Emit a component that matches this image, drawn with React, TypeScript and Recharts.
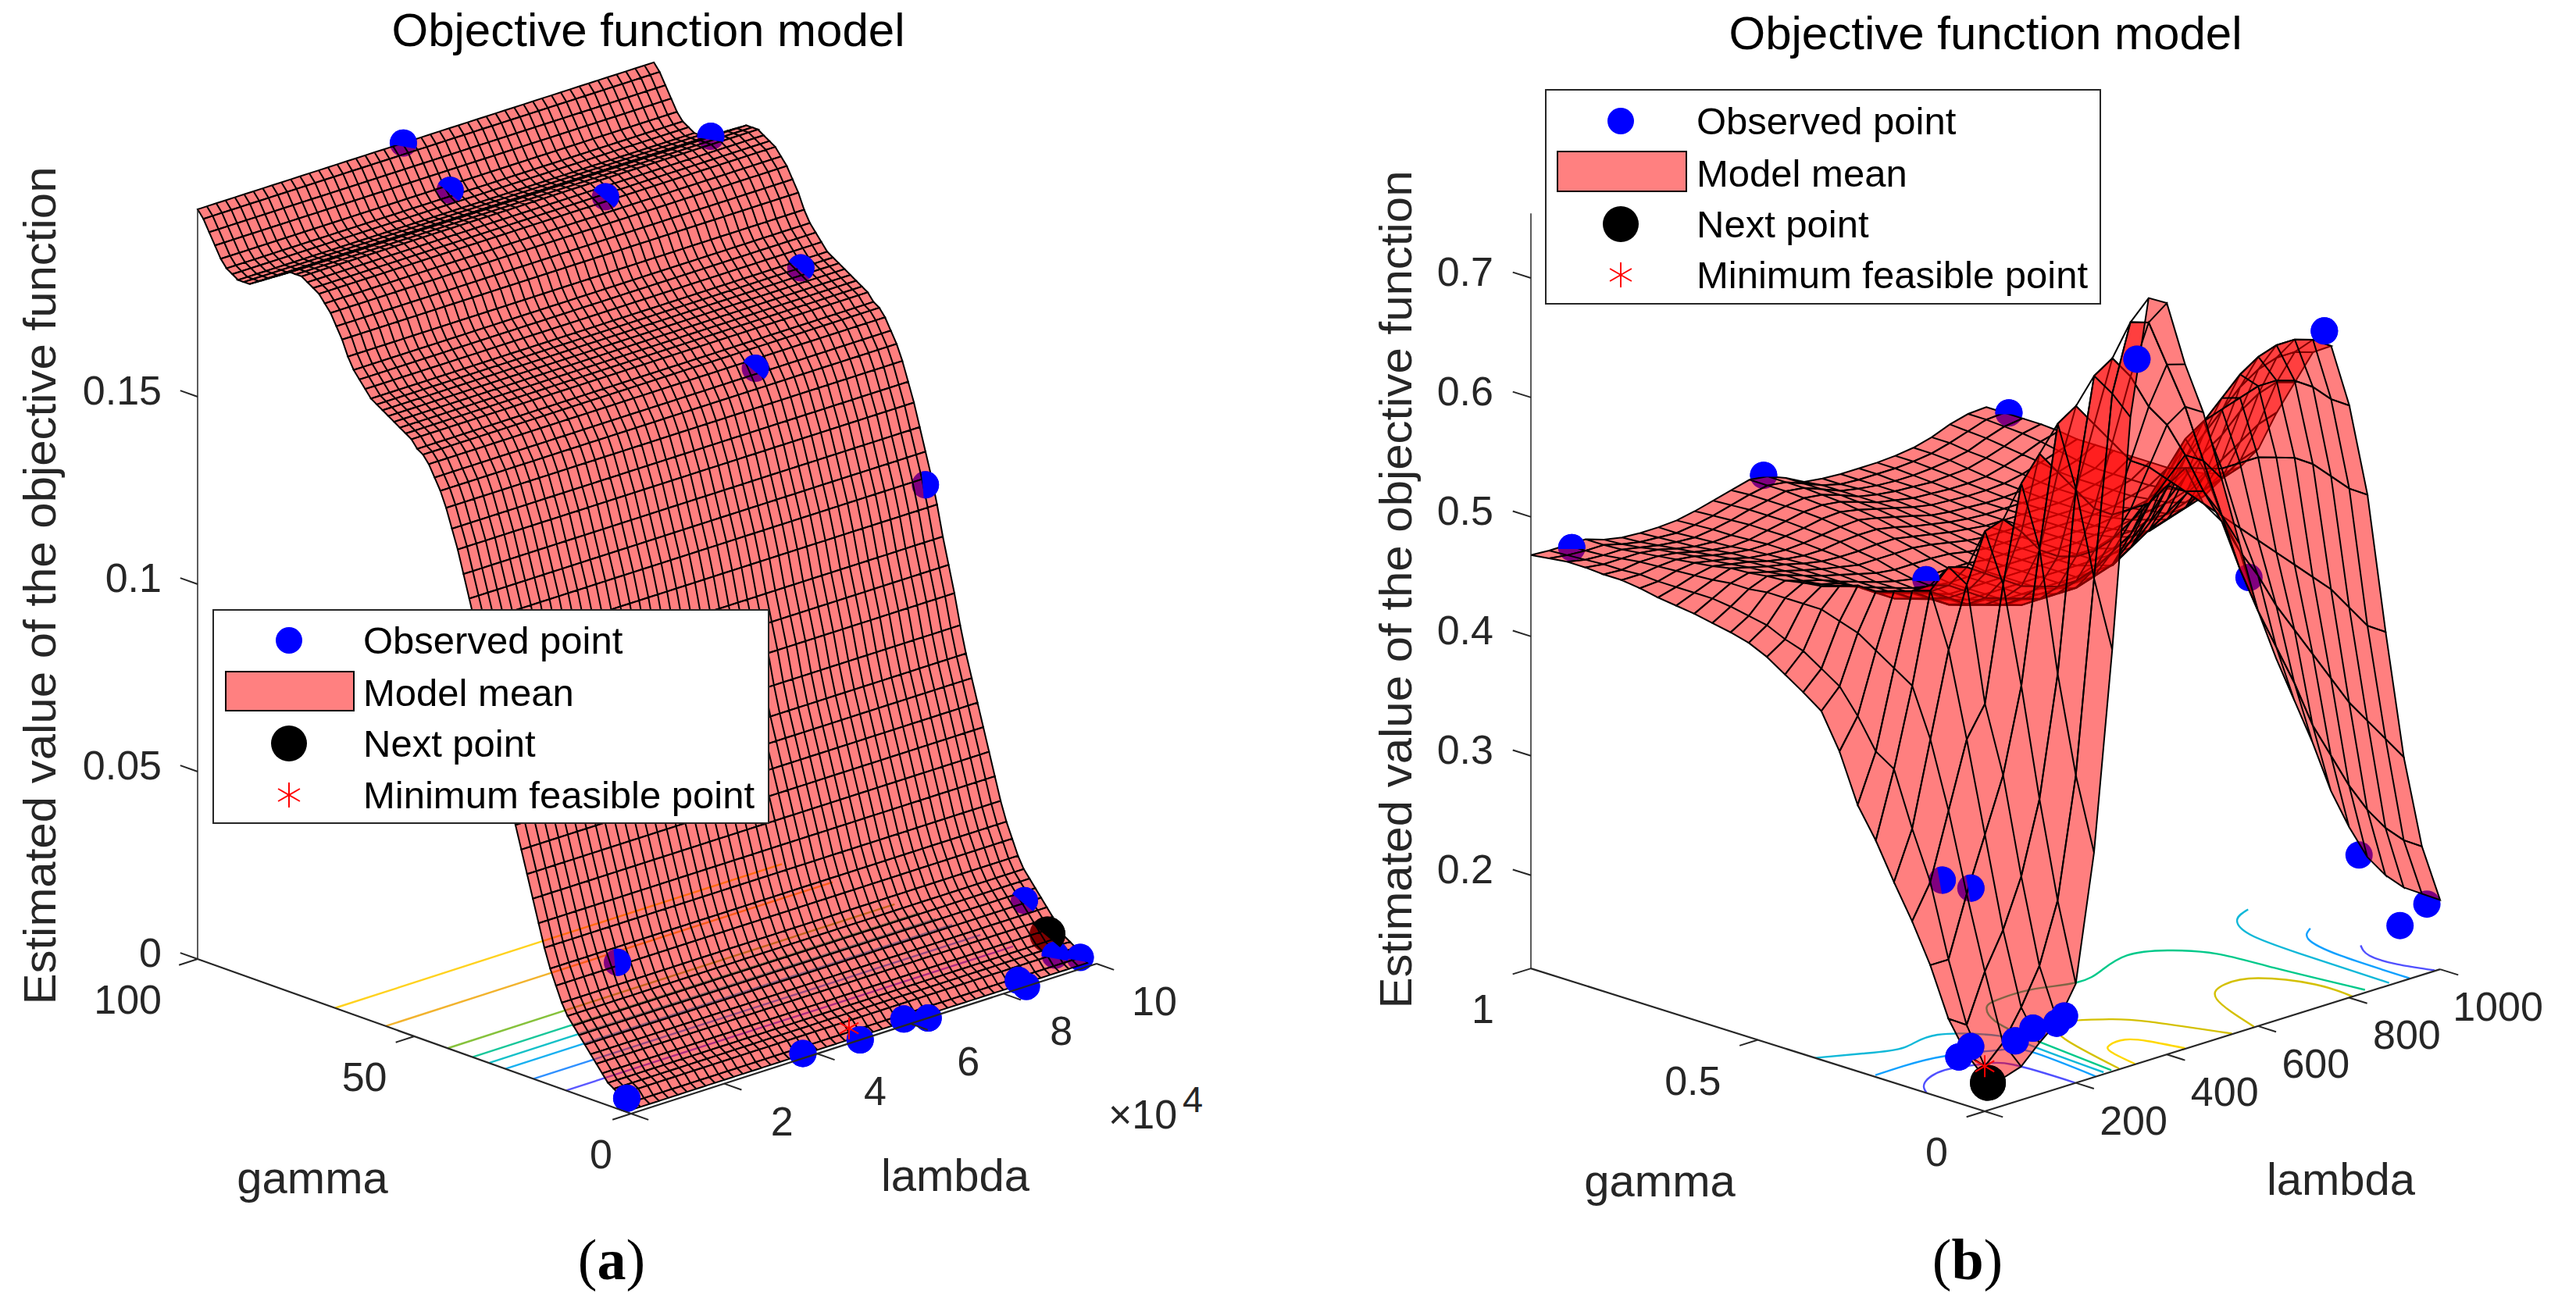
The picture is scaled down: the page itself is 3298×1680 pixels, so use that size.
import { Legend, Scatter, ScatterChart, XAxis, YAxis } from "recharts";

type P3 = [number, number, number]; // lambda (share of axis), gamma (share of axis), z

// ---- panel (a) ----
const lambdaGridA = [0, .02, .04, .06, .08, .1, .12, .14, .16, .18, .2, .22, .24, .26, .28, .3, .32, .34, .36, .38, .4, .42, .44, .46, .48, .5, .52, .54, .56, .58, .6, .62, .64, .66, .68, .7, .72, .74, .76, .78, .8, .82, .84, .86, .88, .9, .92, .94, .96, .98];
// model mean along gamma, front to back
const zProfileA = [.001, .002, .004, .005, .006, .008, .01, .012, .014, .016, .018, .02, .023, .027, .031, .036, .042, .048, .054, .06, .066, .072, .079, .087, .094, .101, .109, .116, .122, .128, .134, .139, .144, .148, .151, .154, .156, .157, .159, .16, .161, .162, .163, .164, .165, .166, .168, .17, .172, .175, .179, .182, .185, .187, .189, .19, .191, .192, .192, .192, .191, .19, .189, .188, .187, .186, .185, .185, .185, .186, .187, .189, .192, .195, .198, .2];
const contourGammaA = [.683, .566, .423, .366, .328, .29, .225, .15];
const contourColorsA = ["#ffd21f", "#f2b32e", "#86c23c", "#18c79a", "#14c0c8", "#18b0f0", "#2f90ff", "#5a58ff"];
const obsCapRightA: P3[] = [[.44, .89, .192], [.69, .8, .184], [.97, .65, .16], [.779, .55, .145], [.938, .1, .0152]];
const obsCapTopA: P3[] = [[.442, 1, .2], [1, .89, .184], [.939, .03, .0035], [.974, .01, .0023]];
const obsCapSideA: P3[] = [[.958, .35, .115], [.25, .3, .018]];
const obsFrontA: P3[] = [[.841, .01, .0015], [.849, 0, 0], [.638, 0, 0], [.586, 0, .0018], [.492, 0, 0], [.369, 0, .0013], [0, .01, .0037]];
const nextPointA: P3[] = [[.941, .05, .0081]];
const minPointA: P3[] = [[.496, .03, .0017]];
const zTicksA = [0, .05, .1, .15];
const lambdaTicksA = [[0, ""], [.2, "2"], [.4, "4"], [.6, "6"], [.8, "8"], [1, "10"]] as [number, string][];
const gammaTicksA = [[0, "0"], [.5, "50"], [1, "100"]] as [number, string][];

// ---- panel (b) ----
const lambdaGridB = [0, .04, .08, .12, .16, .2, .24, .28, .32, .36, .4, .44, .48, .52, .56, .6, .64, .68, .72, .76, .8, .84, .88, .92, .96, 1];
const gammaGridB = lambdaGridB;
const zRowsB = [
  [.15, .145, .15, .165, .178, .205, .31, .475, .665, .76, .751, .695, .65, .59, .53, .47, .425, .385, .345, .3, .265, .235, .215, .2, .19, .18],
  [.165, .15, .165, .19, .22, .27, .37, .53, .68, .735, .73, .69, .65, .6, .55, .5, .46, .425, .39, .35, .32, .29, .265, .245, .23, .22],
  [.19, .18, .22, .25, .29, .35, .45, .6, .69, .7, .68, .65, .63, .6, .565, .535, .505, .48, .45, .425, .4, .375, .35, .33, .31, .29],
  [.23, .23, .28, .325, .37, .44, .55, .65, .66, .64, .62, .6, .59, .575, .56, .545, .53, .515, .5, .485, .47, .455, .44, .42, .4, .39],
  [.262, .29, .345, .4, .425, .52, .6, .62, .6, .58, .56, .55, .55, .55, .56, .57, .565, .56, .56, .56, .555, .55, .54, .525, .51, .5],
  [.29, .33, .4, .47, .52, .56, .565, .55, .53, .52, .515, .515, .52, .53, .545, .565, .585, .595, .6, .605, .61, .61, .605, .595, .58, .57],
  [.32, .375, .44, .515, .53, .525, .515, .505, .495, .49, .485, .485, .49, .5, .51, .53, .55, .57, .585, .6, .615, .625, .63, .63, .625, .615],
  [.345, .385, .45, .51, .51, .505, .495, .485, .48, .475, .47, .47, .47, .475, .48, .495, .51, .53, .55, .565, .58, .595, .605, .61, .61, .605],
  [.385, .41, .46, .505, .5, .495, .485, .475, .47, .465, .46, .46, .46, .46, .465, .47, .48, .495, .51, .525, .54, .55, .565, .575, .58, .575],
  [.414, .43, .47, .5, .495, .49, .48, .47, .465, .46, .455, .455, .455, .455, .455, .46, .46, .47, .48, .49, .5, .51, .52, .53, .54, .545],
  [.425, .44, .475, .5, .49, .485, .475, .47, .46, .455, .455, .45, .45, .45, .45, .45, .455, .46, .465, .47, .475, .48, .49, .495, .505, .51],
  [.435, .45, .48, .495, .49, .48, .47, .465, .46, .455, .45, .45, .45, .45, .45, .45, .45, .45, .455, .46, .46, .465, .47, .475, .485, .49],
  [.445, .455, .48, .49, .485, .48, .47, .465, .46, .455, .45, .45, .45, .45, .45, .45, .45, .45, .45, .455, .455, .46, .46, .465, .47, .48],
  [.452, .462, .48, .488, .482, .478, .47, .465, .46, .455, .452, .45, .45, .45, .45, .45, .45, .45, .45, .452, .452, .455, .458, .46, .465, .475],
  [.456, .465, .48, .485, .48, .476, .47, .465, .46, .456, .453, .452, .452, .452, .45, .45, .45, .45, .45, .45, .45, .452, .455, .458, .462, .472],
  [.459, .468, .478, .484, .48, .475, .47, .466, .462, .458, .456, .456, .456, .455, .452, .45, .45, .45, .45, .45, .45, .45, .452, .456, .46, .47],
  [.462, .47, .478, .482, .478, .474, .47, .466, .463, .46, .46, .46, .46, .458, .455, .452, .45, .45, .45, .45, .45, .45, .452, .456, .46, .47],
  [.464, .47, .476, .481, .477, .473, .47, .466, .463, .462, .462, .463, .463, .46, .457, .454, .452, .45, .45, .45, .45, .45, .452, .456, .46, .47],
  [.466, .47, .475, .478, .475, .472, .468, .465, .463, .463, .465, .466, .466, .463, .459, .456, .453, .451, .45, .45, .45, .45, .452, .456, .46, .47],
  [.469, .47, .474, .476, .473, .47, .466, .464, .463, .464, .466, .468, .469, .466, .462, .458, .454, .452, .451, .45, .45, .451, .453, .457, .462, .47],
  [.471, .471, .473, .474, .472, .468, .465, .463, .463, .465, .467, .47, .471, .468, .464, .46, .456, .453, .452, .451, .451, .452, .455, .46, .465, .47],
  [.471, .47, .472, .472, .47, .466, .463, .461, .462, .465, .468, .471, .472, .47, .465, .46, .457, .454, .453, .452, .452, .453, .457, .462, .468, .472],
  [.472, .47, .47, .47, .468, .464, .461, .46, .461, .465, .468, .471, .473, .471, .466, .46, .457, .455, .454, .453, .454, .455, .459, .464, .47, .473],
  [.472, .469, .468, .468, .465, .462, .46, .459, .461, .464, .468, .471, .474, .472, .466, .46, .457, .455, .454, .454, .455, .457, .46, .466, .471, .473],
  [.47, .468, .467, .467, .463, .46, .459, .458, .46, .463, .467, .471, .474, .472, .466, .46, .456, .455, .455, .455, .456, .458, .462, .467, .472, .473],
  [.468, .467, .467, .467, .462, .459, .458, .458, .459, .462, .466, .47, .474, .472, .466, .458, .456, .455, .455, .455, .456, .458, .462, .468, .472, .473],
];
// floor contours, [lambda, gamma]
const contoursB: { color: string; pts: number[][] }[] = [
  { color: "#10b8d8", pts: [[0, .374], [.068, .337], [.136, .313], [.216, .321], [.28, .25], [.281, .174], [.268, .007]] },
  { color: "#10b8d8", pts: [[.998, .421], [.95, .397], [.912, .331], [.9, .21], [.896, .008]] },
  { color: "#10a0ff", pts: [[1, .286], [.96, .25], [.938, .158], [.935, .002]] },
  { color: "#5050ff", pts: [[.996, .171], [.97, .126], [.97, .065], [.99, .002]] },
  { color: "#10a0ff", pts: [[.006, .247], [.07, .248], [.15, .238], [.23, .2], [.26, .156], [.245, .001]] },
  { color: "#5050ff", pts: [[0, .128], [.035, .167], [.101, .189], [.16, .17], [.195, .133], [.2, .002]] },
  { color: "#00c98a", pts: [[.845, .01], [.822, .186], [.808, .299], [.765, .365], [.703, .392], [.624, .368], [.553, .352], [.478, .377], [.405, .378], [.366, .363], [.328, .307], [.31, .238], [.303, .179], [.284, .006]] },
  { color: "#d4c000", pts: [[.594, .003], [.649, .14], [.71, .183], [.768, .168], [.809, .084], [.808, 0]] },
  { color: "#d4c000", pts: [[.298, .003], [.342, .167], [.38, .215], [.413, .222], [.46, .187], [.495, .136], [.545, .002]] },
  { color: "#ffd800", pts: [[.332, .002], [.347, .069], [.37, .096], [.406, .098], [.426, .067], [.442, .002]] },
];
const obsHiddenB: P3[] = [[.68, .1, .476], [.842, .02, .234], [.912, 0, .169], [.971, 0, .18]];
const obsCapTopB: P3[] = [[0, .91, .485], [.511, 1, .474], [.17, .3, .511], [.95, .9, .486]];
const obsCapSideB: P3[] = [[.106, .2, .279], [.139, .17, .272]];
const obsFrontB: P3[] = [[.384, .05, .7], [.995, .25, .627], [.019, .05, .168], [.003, .06, .16], [.067, 0, .173], [.106, 0, .179], [.158, 0, .177], [.175, 0, .181]];
const nextPointB: P3[] = [[.007, 0, .145]];
const minPointB: P3[] = [[.02, .02, .155]];
const zTicksB = [.2, .3, .4, .5, .6, .7];
const lambdaTicksB = [[0, ""], [.2, "200"], [.4, "400"], [.6, "600"], [.8, "800"], [1, "1000"]] as [number, string][];
const gammaTicksB = [[0, "0"], [.5, "0.5"], [1, "1"]] as [number, string][];

const INK = "#262626";
const SANS = "'Liberation Sans', Arial, sans-serif";
const legendNames = ["Observed point", "Model mean", "Next point", "Minimum feasible point"];

const NoMark = () => <g />;

const disc = (fill: string, r: number) => (p: any) => <circle cx={p.cx} cy={p.cy} r={r} fill={fill} />;

// part of a disc: the side facing angle deg, cut by a chord `off` (share of r) behind the centre
const cap = (fill: string, r: number, deg: number, off: number) => (p: any) => {
  const a = (deg * Math.PI) / 180;
  const ux = Math.cos(a), uy = -Math.sin(a);
  const d = off * r, h = Math.sqrt(r * r - d * d);
  const x1 = p.cx - ux * d - uy * h, y1 = p.cy - uy * d + ux * h;
  const x2 = p.cx - ux * d + uy * h, y2 = p.cy - uy * d - ux * h;
  return <path d={`M${x1} ${y1}A${r} ${r} 0 ${off > 0 ? 1 : 0} 0 ${x2} ${y2}Z`} fill={fill} />;
};

const star = (r: number) => (p: any) => (
  <path
    d={`M${p.cx} ${p.cy - r}V${p.cy + r}M${p.cx - r * .87} ${p.cy - r * .5}L${p.cx + r * .87} ${p.cy + r * .5}M${p.cx - r * .87} ${p.cy + r * .5}L${p.cx + r * .87} ${p.cy - r * .5}`}
    stroke="#ff0000"
    strokeWidth={2}
  />
);

type View = (l: number, g: number, z: number) => { x: number; y: number };

function strips(lambdas: number[], gammas: number[], zAt: (i: number, j: number) => number, view: View) {
  const out: { x: number; y: number }[][] = [];
  for (let j = gammas.length - 2; j >= 0; j--) {
    const strip: { x: number; y: number }[] = [];
    const at = (i: number, row: number) => view(lambdas[i], gammas[row], zAt(i, row));
    for (let i = 0; i < lambdas.length; i++) strip.push(at(i, j), at(i, j + 1), at(i, j));
    for (let i = lambdas.length - 1; i >= 0; i--) strip.push(at(i, j + 1));
    strip.push(at(0, j));
    out.push(strip);
  }
  return out;
}

function LegendBox({ w, h, rows, swatch, markerX, textX }: any) {
  return (
    <svg width={w} height={h} style={{ display: "block" }}>
      <rect x={1} y={1} width={w - 2} height={h - 2} fill="#fff" stroke={INK} strokeWidth={2} />
      <circle cx={markerX} cy={rows[0]} r={17} fill="#0000ff" />
      <rect x={swatch[0]} y={swatch[1]} width={swatch[2]} height={swatch[3]} fill="#ff8080" stroke="#000" strokeWidth={2} />
      <circle cx={markerX} cy={rows[2]} r={23} fill="#000" />
      {star(16)({ cx: markerX, cy: rows[3] })}
      {legendNames.map((name, k) => (
        <text key={name} x={textX} y={rows[k] + 17} fontFamily={SANS} fontSize={49} fill="#000">{name}</text>
      ))}
    </svg>
  );
}

function Panel(props: any) {
  const { left, width, yWidth, xDomain, yDomain, marginTop, marginBottom, view, sheets, contours, under, caps, next, min, zTicks, zMin, zMax, lambdaTicks, gammaTicks, tickLabel, gammaLabel, lambdaLabel, title, zLabel, caption, legend, children } = props;
  const series = (pts: P3[]) => pts.map((p) => view(p[0], p[1], p[2]));
  const ln = (key: string, data: any[], stroke: string, w: number, joint: any = "linear") => (
    <Scatter key={key} data={data} shape={NoMark} line={{ stroke, strokeWidth: w }} lineJointType={joint} isAnimationActive={false} />
  );
  const axisLines = [
    [[0, 1, zMin], [0, 0, zMin]],
    [[0, 0, zMin], [1, 0, zMin]],
    [[0, 1, zMin], [0, 1, zMax]],
  ] as P3[][];
  return (
    <div style={{ position: "absolute", left, top: 0 }}>
      <ScatterChart width={width} height={1680} margin={{ top: marginTop, bottom: marginBottom, left: 0, right: 0 }}>
        <XAxis type="number" dataKey="x" domain={xDomain} hide />
        <YAxis
          type="number"
          dataKey="y"
          domain={yDomain}
          ticks={zTicks}
          width={yWidth}
          axisLine={false}
          tickLine={false}
          tickSize={0}
          tickMargin={0}
          interval={0}
          tick={(p: any) => (
            <text x={p.x + tickLabel.zx} y={p.y + 10} textAnchor="end" fontFamily={SANS} fontSize={52} fill={INK}>
              {String(p.payload.value)}
            </text>
          )}
        />
        {contours.map((c: any, k: number) => ln(`c${k}`, c.pts.map((q: number[]) => view(q[0], q[1], zMin)), c.color, 2.4, "natural"))}
        <Scatter data={series(under)} shape={disc("#0000ff", 17.5)} isAnimationActive={false} />
        <Scatter data={series(next)} shape={disc("#000", 23)} isAnimationActive={false} />
        {sheets.map((s: any, k: number) => (
          <Scatter key={`s${k}`} data={s} shape={NoMark} line={{ stroke: "#000", strokeWidth: 2, fill: "#ff0000", fillOpacity: 0.5 }} isAnimationActive={false} />
        ))}
        {caps.map((c: any, k: number) => (
          <Scatter key={`k${k}`} data={series(c.pts)} shape={c.shape} isAnimationActive={false} />
        ))}
        <Scatter data={series(min)} shape={star(14)} isAnimationActive={false} />
        {axisLines.map((a, k) => ln(`a${k}`, series(a), INK, k === 2 ? 1.5 : 2.2))}
        {lambdaTicks.map((t: any) => ln(`lt${t[0]}`, series([[t[0], 0, zMin], [t[0], -.04, zMin]]), INK, 2))}
        {gammaTicks.map((t: any) => ln(`gt${t[0]}`, series([[0, t[0], zMin], [-.04, t[0], zMin]]), INK, 2))}
        {zTicks.map((t: number) => ln(`zt${t}`, series([[0, 1, t], [0, 1.04, t]]), INK, 2))}
        <Scatter
          data={lambdaTicks.filter((t: any) => t[1]).map((t: any) => ({ ...view(t[0], 0, zMin), label: t[1] }))}
          isAnimationActive={false}
          shape={(p: any) => (
            <text x={p.cx + tickLabel.lx} y={p.cy + tickLabel.ly} textAnchor="middle" fontFamily={SANS} fontSize={52} fill={INK}>
              {p.payload.label}
            </text>
          )}
        />
        <Scatter
          data={gammaTicks.map((t: any) => ({ ...view(0, t[0], zMin), label: t[1], g: t[0] }))}
          isAnimationActive={false}
          shape={(p: any) => (
            <text x={p.cx + tickLabel.gx(p.payload.g)} y={p.cy + tickLabel.gy} textAnchor="end" fontFamily={SANS} fontSize={52} fill={INK}>
              {p.payload.label}
            </text>
          )}
        />
        <text x={title[0]} y={title[1]} textAnchor="middle" fontFamily={SANS} fontSize={60} fill="#000">Objective function model</text>
        <text
          transform={`translate(${zLabel[0]} ${zLabel[1]}) rotate(-90)`}
          textAnchor="middle"
          fontFamily={SANS}
          fontSize={58}
          fill={INK}
          textLength={1073}
          lengthAdjust="spacingAndGlyphs"
        >
          Estimated value of the objective function
        </text>
        <text x={gammaLabel[0]} y={gammaLabel[1]} textAnchor="middle" fontFamily={SANS} fontSize={58} fill={INK}>gamma</text>
        <text x={lambdaLabel[0]} y={lambdaLabel[1]} textAnchor="middle" fontFamily={SANS} fontSize={58} fill={INK}>lambda</text>
        {children}
        <text x={caption[0]} y={1638} textAnchor="middle" fontFamily="'Liberation Serif', serif" fontSize={74} fill="#000">
          (<tspan fontWeight="bold">{caption[1]}</tspan>)
        </text>
        <Legend
          layout="vertical"
          align="center"
          verticalAlign="middle"
          wrapperStyle={{ left: legend.x, top: legend.y, width: legend.w, height: legend.h, margin: 0 }}
          content={() => <LegendBox {...legend} />}
        />
      </ScatterChart>
    </div>
  );
}

const viewA: View = (l, g, z) => ({ x: 555 * (1 - g) + 596 * l, y: z + (192 * l - 198 * (1 - g)) / 4800 });
const viewB: View = (l, g, z) => ({ x: 581 * (1 - g) + 583 * l, y: z + (182 * l - 183 * (1 - g)) / 1530 });

export default function App() {
  const gammaGridA = zProfileA.map((_, k) => k / 75);
  const sheetsA = strips(lambdaGridA, gammaGridA, (_, j) => zProfileA[j], viewA);
  const sheetsB = strips(lambdaGridB, gammaGridB, (i, j) => zRowsB[j][i], viewB);
  const contoursA = contourGammaA.map((g, k) => ({ color: contourColorsA[k], pts: [[0, g], [.96, g]] }));
  return (
    <div style={{ position: "absolute", left: 0, top: 0, width: 3298, height: 1680, background: "#fff", overflow: "hidden" }}>
      <Panel
        left={0}
        width={1649}
        yWidth={153}
        xDomain={[-100, 1396]}
        yDomain={[-.05, .25]}
        marginTop={28}
        marginBottom={212}
        view={viewA}
        sheets={sheetsA}
        contours={contoursA}
        under={[...obsCapRightA, ...obsCapTopA, ...obsCapSideA, ...obsFrontA]}
        caps={[
          { pts: obsCapRightA, shape: cap("#0000ff", 17.5, 50, .2) },
          { pts: obsCapTopA, shape: cap("#0000ff", 17.5, 80, .25) },
          { pts: obsCapSideA, shape: cap("#0000ff", 17.5, 5, .2) },
          { pts: obsFrontA, shape: disc("#0000ff", 17.5) },
          { pts: nextPointA, shape: cap("#000", 23, 50, .1) },
        ]}
        next={nextPointA}
        min={minPointA}
        zTicks={zTicksA}
        zMin={0}
        zMax={.2}
        lambdaTicks={lambdaTicksA}
        gammaTicks={gammaTicksA}
        tickLabel={{ zx: 54, lx: 74, ly: 66, gx: (g: number) => -24 - 22 * g, gy: 70 }}
        gammaLabel={[400, 1528]}
        lambdaLabel={[1223, 1525]}
        title={[830, 59]}
        zLabel={[71, 750]}
        caption={[783, "a"]}
        legend={{ x: 272, y: 780, w: 713, h: 275, rows: [40, 107, 172, 238], swatch: [17, 80, 164, 50], markerX: 98, textX: 193 }}
      >
        <text x={1419} y={1445} fontFamily={SANS} fontSize={52} fill={INK}>×10</text>
        <text x={1514} y={1424} fontFamily={SANS} fontSize={47} fill={INK}>4</text>
      </Panel>
      <Panel
        left={1649}
        width={1649}
        yWidth={211}
        xDomain={[-100, 1338]}
        yDomain={[-.03, .9]}
        marginTop={50}
        marginBottom={207.4}
        view={viewB}
        sheets={sheetsB}
        contours={contoursB}
        under={[...obsHiddenB, ...obsCapTopB, ...obsCapSideB, ...obsFrontB]}
        caps={[
          { pts: obsCapTopB, shape: cap("#0000ff", 17.5, 90, .1) },
          { pts: obsCapSideB, shape: cap("#0000ff", 17.5, 10, .2) },
          { pts: obsFrontB, shape: disc("#0000ff", 17.5) },
          { pts: nextPointB, shape: disc("#000", 23) },
        ]}
        next={nextPointB}
        min={minPointB}
        zTicks={zTicksB}
        zMin={.122}
        zMax={.754}
        lambdaTicks={lambdaTicksB}
        gammaTicks={gammaTicksB}
        tickLabel={{ zx: 52, lx: 74, ly: 66, gx: () => -47, gy: 70 }}
        gammaLabel={[476, 1532]}
        lambdaLabel={[1348, 1530]}
        title={[893, 63]}
        zLabel={[158, 755]}
        caption={[870, "b"]}
        legend={{ x: 329, y: 114, w: 712, h: 276, rows: [41, 108, 173, 238], swatch: [16, 80, 165, 51], markerX: 97, textX: 194 }}
      />
    </div>
  );
}
